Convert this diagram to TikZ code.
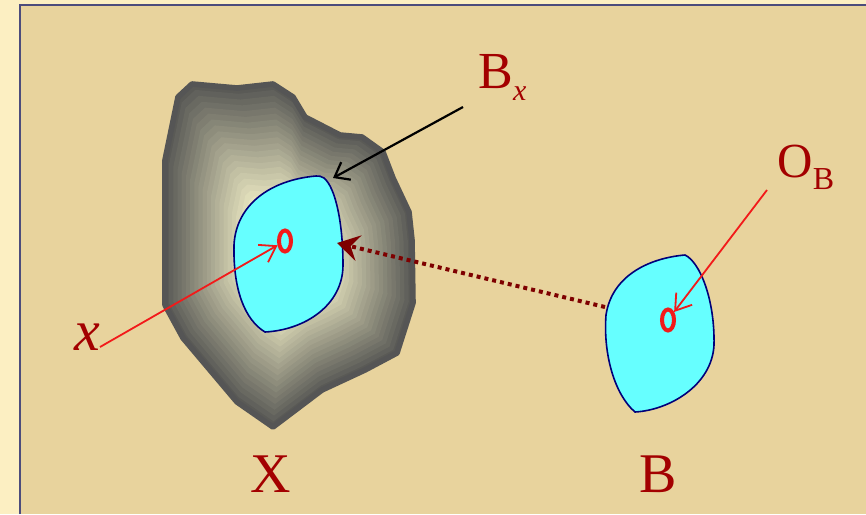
\documentclass[tikz,border=0pt]{standalone}
\usepackage{fontspec}
\setmainfont{Liberation Serif}
\usepackage{tikz}
\usetikzlibrary{arrows.meta,shapes.geometric}
\definecolor{papyrus}{HTML}{E8D39D}
\definecolor{margin}{HTML}{FCEFC2}
\definecolor{frameBlue}{HTML}{4C4C7C}
\definecolor{labelRed}{HTML}{A30000}
\definecolor{ptrRed}{HTML}{F21A1A}
\definecolor{dotRed}{HTML}{7E0000}
\definecolor{blobGray}{HTML}{5A5A56}
\definecolor{blobCream}{HTML}{EEEBC4}
\definecolor{blobEdge}{HTML}{555555}
\definecolor{ballCyan}{HTML}{66FFFF}
\definecolor{ballNavy}{HTML}{00007A}
\newcommand{\xblob}{(-110,-161) -- (-96,-174) -- (-51,-170) -- (-15,-174) -- (5,-161) -- (17,-141) -- (52,-123) -- (74,-121) -- (95,-106) -- (105,-80) -- (121,-46) -- (124,-18) -- (125,45) -- (109,95) -- (77,112) -- (34,132) -- (-15,169) -- (-51,144) -- (-105,80) -- (-123,47) -- (-123,-98) -- cycle}

\begin{document}
\begin{tikzpicture}[
    x=0.5pt, y=-0.5pt,
    lbl/.style={text=labelRed, inner sep=0pt},
    ball/.style={draw=ballNavy, fill=ballCyan, line width=0.8pt},
    origin/.style={ellipse, draw=ptrRed, fill=ballCyan, line width=2pt, inner sep=0pt, minimum width=6pt, minimum height=10.5pt},
    blackptr/.style={-{Straight Barb[length=6.5pt,width=10pt]}, line width=1.1pt, draw=black},
    redptr/.style={-{Straight Barb[length=7.5pt,width=10pt]}, line width=0.9pt, draw=ptrRed},
    dotptr/.style={-{Stealth[length=11pt,width=13pt,inset=4pt]}, line width=2pt, draw=dotRed, dash pattern=on 2pt off 2pt}
]
\useasboundingbox (0,0) rectangle (866,514);
\fill[margin] (0,0) rectangle (866,514);
\fill[papyrus] (20,5) rectangle (866,514);
\draw[frameBlue, line width=0.8pt] (20,514) -- (20,5) -- (866,5);

\begin{scope}[shift={(288,258)}]
\foreach \i in {0,...,20}{
  \pgfmathsetmacro{\s}{1-0.034*\i}
  \pgfmathtruncatemacro{\m}{5*\i}
  \fill[blobCream!\m!blobGray, scale=\s] \xblob;
}
\draw[line width=2.8pt, draw=blobEdge, line join=round] \xblob;
\end{scope}

\draw[ball] (316,176) .. controls (270,180) and (236,205) .. (234,245) .. controls (233,290) and (245,320) .. (265,332) .. controls (305,330) and (343,305) .. (343,265) .. controls (343,225) and (336,188) .. (324,178) .. controls (321,176) and (319,176) .. (316,176) -- cycle;
\draw[ball] (685,255) .. controls (650,258) and (612,275) .. (606,315) .. controls (603,355) and (615,395) .. (635,412) .. controls (670,410) and (712,385) .. (714,345) .. controls (715,300) and (700,262) .. (685,255) -- cycle;

\node[origin] (xo) at (285,241) {};
\node[origin] (bo) at (668,320) {};

\node[lbl, anchor=base west, font=\fontsize{26}{30}\selectfont] (bx) at (478,88) {B\raisebox{-0.24em}{\fontsize{15}{18}\selectfont\itshape x}};
\node[lbl, anchor=base west, font=\fontsize{24.5}{28}\selectfont] (ob) at (777,177) {O\raisebox{-0.26em}{\fontsize{16}{18}\selectfont B}};
\node[lbl, anchor=base west, font=\fontsize{29}{34}\selectfont\itshape] (xl) at (74,350) {x};
\node[lbl, anchor=base, font=\fontsize{28}{32}\selectfont] (xset) at (271,492) {X};
\node[lbl, anchor=base, font=\fontsize{28}{32}\selectfont] (bset) at (658,492) {B};

\coordinate (bxfrom) at (463,107);
\coordinate (bxto) at (333,178);
\coordinate (xfrom) at (100,347);
\coordinate (obfrom) at (767,190);
\coordinate (dotfrom) at (605,307);
\coordinate (dotto) at (337,243);

\draw[blackptr] (bxfrom) -- (bxto);
\draw[redptr] (xfrom) -- (xo);
\draw[redptr] (obfrom) -- (bo);
\draw[dotptr] (dotfrom) -- (dotto);
\end{tikzpicture}
\end{document}
